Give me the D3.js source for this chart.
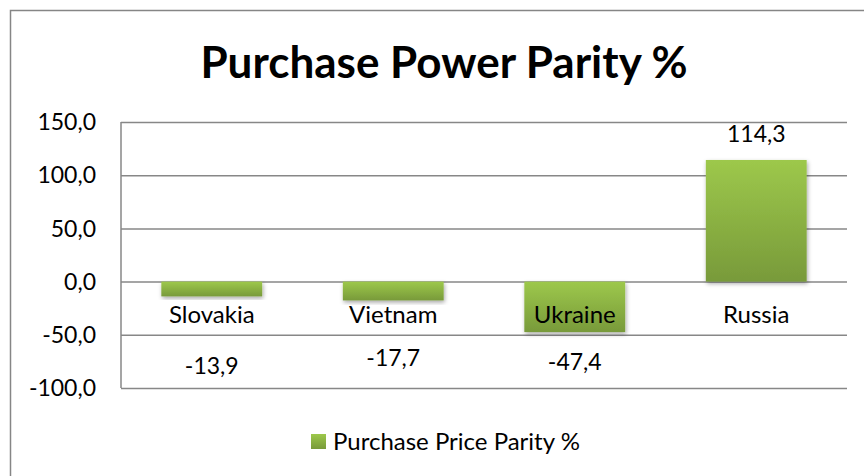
<!DOCTYPE html>
<html>
<head>
<meta charset="utf-8">
<script src="https://cdn.jsdelivr.net/npm/d3@7"></script>
<style>
  body { margin: 0; background: #fff; }
  text { font-family: Lato, "Open Sans", sans-serif; fill: #000; }
</style>
</head>
<body>
<div id="chart"></div>
<script>
const countries = ["Slovakia", "Vietnam", "Ukraine", "Russia"];
const pppValues = [-13.9, -17.7, -47.4, 114.3];
const yTicks = [-100, -50, 0, 50, 100, 150];
const seriesName = "Purchase Price Parity %";
const chartTitle = "Purchase Power Parity %";

// data labels were nudged by hand in the original (pixels)
const labelShift = [7, -0.5, 3.5, 0];

const width = 864, height = 476;
const margin = { top: 122, right: 17, bottom: 88, left: 121 };
const innerW = width - margin.left - margin.right;
const innerH = height - margin.top - margin.bottom;

const fmt = v => d3.format(".1f")(v).replace(".", ",").replace("−", "-");

const svg = d3.select("#chart").append("svg")
    .attr("width", width)
    .attr("height", height);

// gradient + shadow for bars
const defs = svg.append("defs");
const grad = defs.append("linearGradient")
    .attr("id", "barGrad")
    .attr("x1", 0).attr("y1", 0).attr("x2", 0).attr("y2", 1);
grad.append("stop").attr("offset", "0%").attr("stop-color", "#9dc84b");
grad.append("stop").attr("offset", "100%").attr("stop-color", "#789a3a");

const shadow = defs.append("filter").attr("id", "shadow")
    .attr("x", "-10%").attr("y", "-10%").attr("width", "130%").attr("height", "130%");
shadow.append("feDropShadow")
    .attr("dx", 1).attr("dy", 2).attr("stdDeviation", 2)
    .attr("flood-color", "#000").attr("flood-opacity", 0.35);

// outer chart frame (cropped on right/bottom)
svg.append("rect")
    .attr("x", 10.5).attr("y", 10.5)
    .attr("width", width + 20).attr("height", height + 20)
    .attr("fill", "none")
    .attr("stroke", "#868686")
    .attr("stroke-width", 1.5);

svg.append("text")
    .attr("x", 444)
    .attr("y", 78)
    .attr("text-anchor", "middle")
    .attr("font-size", "44px")
    .attr("font-weight", "bold")
    .text(chartTitle);

const g = svg.append("g")
    .attr("transform", `translate(${margin.left},${margin.top})`);

const x = d3.scaleBand()
    .domain(countries)
    .range([0, innerW])
    .paddingInner(0.8 / 1.8)
    .paddingOuter(0.4 / 1.8);

const y = d3.scaleLinear()
    .domain([-100, 150])
    .range([innerH, 0]);

// gridlines
g.append("g")
    .call(d3.axisLeft(y).tickValues(yTicks).tickSize(-innerW).tickFormat(""))
    .call(s => s.select(".domain").remove())
    .call(s => s.selectAll("line").attr("stroke", "#878787").attr("stroke-width", 1.5));

// y tick labels
g.append("g")
    .selectAll("text")
    .data(yTicks)
    .join("text")
    .attr("x", -25)
    .attr("y", d => y(d))
    .attr("dy", "0.36em")
    .attr("text-anchor", "end")
    .attr("font-size", "23px")
    .text(fmt);

// left axis line
g.append("line")
    .attr("x1", 0).attr("x2", 0)
    .attr("y1", 0).attr("y2", innerH)
    .attr("stroke", "#878787")
    .attr("stroke-width", 1.5);

// bars
g.selectAll("rect.bar")
    .data(countries)
    .join("rect")
    .attr("class", "bar")
    .attr("x", d => x(d))
    .attr("width", x.bandwidth())
    .attr("y", (d, i) => y(Math.max(0, pppValues[i])))
    .attr("height", (d, i) => Math.abs(y(pppValues[i]) - y(0)))
    .attr("fill", "url(#barGrad)")
    .attr("filter", "url(#shadow)");

// category labels sit just below the zero line
g.selectAll("text.cat")
    .data(countries)
    .join("text")
    .attr("class", "cat")
    .attr("x", d => x(d) + x.bandwidth() / 2)
    .attr("y", y(0) + 41)
    .attr("text-anchor", "middle")
    .attr("font-size", "24px")
    .text(d => d);

// value labels
g.selectAll("text.val")
    .data(countries)
    .join("text")
    .attr("class", "val")
    .attr("x", d => x(d) + x.bandwidth() / 2)
    .attr("y", (d, i) => {
        const v = pppValues[i];
        return v >= 0 ? y(v) - 18 : y(-80) + labelShift[i];
    })
    .attr("text-anchor", "middle")
    .attr("font-size", "23px")
    .text((d, i) => fmt(pppValues[i]));

// legend
const legend = svg.append("g").attr("transform", "translate(311,434)");
legend.append("rect")
    .attr("width", 15).attr("height", 15)
    .attr("fill", "url(#barGrad)");
legend.append("text")
    .attr("x", 22)
    .attr("y", 16)
    .attr("font-size", "24px")
    .text(seriesName);
</script>
</body>
</html>
